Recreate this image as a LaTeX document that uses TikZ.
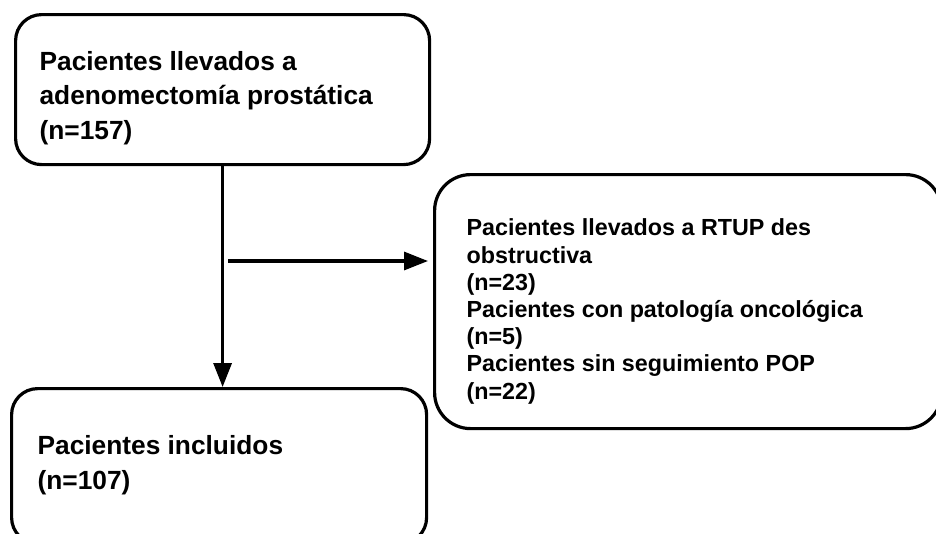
\documentclass[tikz,border=0pt]{standalone}
\usepackage{fontspec}
\setmainfont{Liberation Sans}
\usetikzlibrary{arrows.meta}
\begin{document}
\begin{tikzpicture}[x=1pt,y=-1pt, line width=3.2pt,
  box/.style={draw, rounded corners=26pt, inner sep=0pt, anchor=north west},
  bigtxt/.style={font=\bfseries\fontsize{26.3}{34.5}\selectfont, align=left, anchor=base west, inner sep=0pt},
  smalltxt/.style={font=\bfseries\fontsize{23.3}{27.2}\selectfont, align=left, anchor=base west, inner sep=0pt},
  arr/.style={-{Triangle[length=24pt,width=18pt]}}]
\useasboundingbox (0,0) rectangle (936,533);
\node[box, minimum width=414pt, minimum height=150pt] (top) at (14,13) {};
\node[box, rounded corners=36pt, minimum width=507pt, minimum height=254pt] (rb) at (433,173) {};
\node[box, minimum width=415pt, minimum height=155pt] (bot) at (10,387) {};
% base anchor = baseline of the last line
\node[bigtxt] (t1) at (38,139) {Pacientes llevados a\\adenomectomía prostática\\(n=157)};
\node[smalltxt] (t2) at (465,399) {Pacientes llevados a RTUP des\\obstructiva\\(n=23)\\Pacientes con patología oncológica\\(n=5)\\Pacientes sin seguimiento POP\\(n=22)};
\node[bigtxt] (t3) at (36,489) {Pacientes incluidos\\(n=107)};
\draw[arr] (top.south) -- (top.south |- bot.north);
\coordinate (hs) at (228,261);
\draw[arr, shorten >=5pt] (hs) -- (hs -| rb.west);
\end{tikzpicture}
\end{document}
